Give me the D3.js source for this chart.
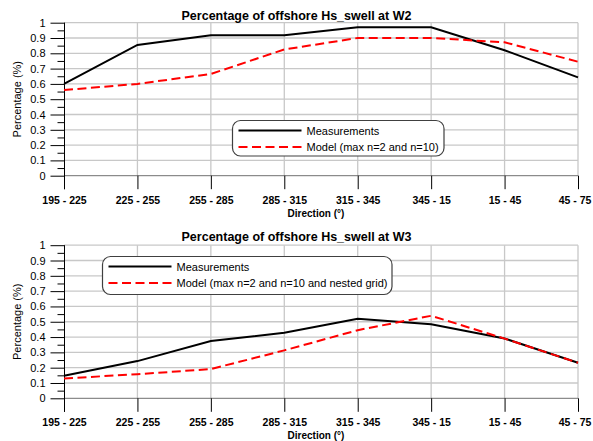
<!DOCTYPE html>
<html>
<head>
<meta charset="utf-8">
<script src="https://cdn.jsdelivr.net/npm/d3@7"></script>
<style>
  html, body { margin: 0; padding: 0; background: #fff; }
  svg { display: block; font-family: "Liberation Sans", Arial, sans-serif; }
</style>
</head>
<body>
<svg id="chart" width="593" height="441"></svg>
<script>
// Direction sectors (degrees)
const directions = ["195 - 225", "225 - 255", "255 - 285", "285 - 315",
                    "315 - 345", "345 - 15", "15 - 45", "45 - 75"];

// Percentage axis ticks
const yTickValues = [0, 0.1, 0.2, 0.3, 0.4, 0.5, 0.6, 0.7, 0.8, 0.9, 1];
const yMinorTicks = [0.05, 0.15, 0.25, 0.35, 0.45, 0.55, 0.65, 0.75, 0.85, 0.95];

// Station W2
const w2Measured = [0.60, 0.855, 0.918, 0.918, 0.97, 0.97, 0.82, 0.643];
const w2Model    = [0.56, 0.60, 0.665, 0.825, 0.90, 0.90, 0.872, 0.745];

// Station W3
const w3Measured = [0.147, 0.243, 0.374, 0.428, 0.52, 0.483, 0.391, 0.232];
const w3Model    = [0.13, 0.157, 0.191, 0.313, 0.445, 0.539, 0.39, 0.232];

const svg = d3.select("#chart");

function drawPanel(opt) {
  const g = svg.append("g");
  const x = d3.scalePoint().domain(directions).range([64, 578]);
  const y = d3.scaleLinear().domain([0, 1]).range([opt.y0, opt.y1]);

  // grid
  g.append("g").selectAll("line").data(yTickValues.filter(v => v > 0)).join("line")
    .attr("x1", 64).attr("x2", 578)
    .attr("y1", d => y(d)).attr("y2", d => y(d))
    .attr("stroke", "#c8c8c8").attr("stroke-width", 1.3);
  g.append("g").selectAll("line").data(directions.slice(1)).join("line")
    .attr("x1", d => x(d)).attr("x2", d => x(d))
    .attr("y1", y(1)).attr("y2", y(0))
    .attr("stroke", "#c8c8c8").attr("stroke-width", 1.3);

  // baseline
  g.append("line").attr("x1", 64).attr("x2", 578)
    .attr("y1", y(0)).attr("y2", y(0))
    .attr("stroke", "#707070").attr("stroke-width", 1);

  // y axis
  const yAxis = d3.axisLeft(y).tickValues(yTickValues).tickSize(14)
    .tickPadding(5).tickFormat(d3.format("~g"));
  const ya = g.append("g").attr("transform", "translate(64.5,0)").call(yAxis);
  ya.select(".domain").remove();
  ya.selectAll("text").attr("font-size", 11).attr("font-family", "Liberation Sans, Arial, sans-serif")
    .attr("fill", "#000");
  ya.selectAll("line").attr("stroke", "#000");
  const yMinor = d3.axisLeft(y).tickValues(yMinorTicks).tickSize(7).tickFormat("");
  const ym = g.append("g").attr("transform", "translate(64.5,0)").call(yMinor);
  ym.select(".domain").remove();
  ym.selectAll("line").attr("stroke", "#000");
  g.append("line").attr("x1", 64.5).attr("x2", 64.5)
    .attr("y1", y(1)).attr("y2", y(0) + 13.5)
    .attr("stroke", "#000").attr("stroke-width", 1);

  // x axis
  const xAxis = d3.axisBottom(x).tickSize(13.5).tickPadding(7);
  const xa = g.append("g").attr("transform", `translate(0,${y(0)})`).call(xAxis);
  xa.select(".domain").remove();
  xa.selectAll("line").attr("stroke", "#000");
  xa.selectAll("text").attr("font-size", 10.5).attr("font-weight", "bold")
    .attr("font-family", "Liberation Sans, Arial, sans-serif").attr("fill", "#000")
    .attr("dx", (d, i) => i === directions.length - 1 ? -3.5 : 0);

  // titles
  g.append("text").attr("x", 296.5).attr("y", opt.titleY)
    .attr("text-anchor", "middle").attr("font-size", 12.5).attr("font-weight", "bold")
    .text(opt.title);
  g.append("text").attr("x", 316).attr("y", y(0) + 41)
    .attr("text-anchor", "middle").attr("font-size", 10).attr("font-weight", "bold")
    .text("Direction (°)");
  const cy = (y(0) + y(1)) / 2;
  g.append("text").attr("transform", `translate(21,${cy}) rotate(-90)`)
    .attr("text-anchor", "middle").attr("font-size", 11)
    .text("Percentage (%)");

  // series
  const line = d3.line().x((d, i) => x(directions[i])).y(d => y(d));
  g.append("path").datum(opt.measured).attr("d", line)
    .attr("fill", "none").attr("stroke", "#000").attr("stroke-width", 2);
  g.append("path").datum(opt.model).attr("d", line)
    .attr("fill", "none").attr("stroke", "#ff0000").attr("stroke-width", 2)
    .attr("stroke-dasharray", "9,4.5");

  // legend
  const lg = g.append("g");
  lg.append("rect").attr("x", opt.leg.x).attr("y", opt.leg.y)
    .attr("width", opt.leg.w).attr("height", opt.leg.h).attr("rx", 8).attr("ry", 8)
    .attr("fill", "#fff").attr("stroke", "#404040").attr("stroke-width", 1.2);
  const items = [
    { label: "Measurements", color: "#000", dash: null, dy: 10 },
    { label: opt.modelLabel, color: "#ff0000", dash: "9,4.5", dy: 26.5 }
  ];
  items.forEach(it => {
    const ly = opt.leg.y + it.dy;
    lg.append("line").attr("x1", opt.leg.x + 6).attr("x2", opt.leg.x + 69)
      .attr("y1", ly).attr("y2", ly)
      .attr("stroke", it.color).attr("stroke-width", 2)
      .attr("stroke-dasharray", it.dash);
    lg.append("text").attr("x", opt.leg.x + 74).attr("y", ly + 4)
      .attr("font-size", 11).text(it.label);
  });
}

drawPanel({
  title: "Percentage of offshore Hs_swell at W2",
  titleY: 20, y1: 22.7, y0: 175.7,
  measured: w2Measured, model: w2Model,
  modelLabel: "Model (max n=2 and n=10)",
  leg: { x: 232.5, y: 120.5, w: 211.5, h: 35.5 }
});

drawPanel({
  title: "Percentage of offshore Hs_swell at W3",
  titleY: 241, y1: 245.2, y0: 398.3,
  measured: w3Measured, model: w3Model,
  modelLabel: "Model (max n=2 and n=10 and nested grid)",
  leg: { x: 102.5, y: 256.5, w: 289.5, h: 38 }
});
</script>
</body>
</html>
